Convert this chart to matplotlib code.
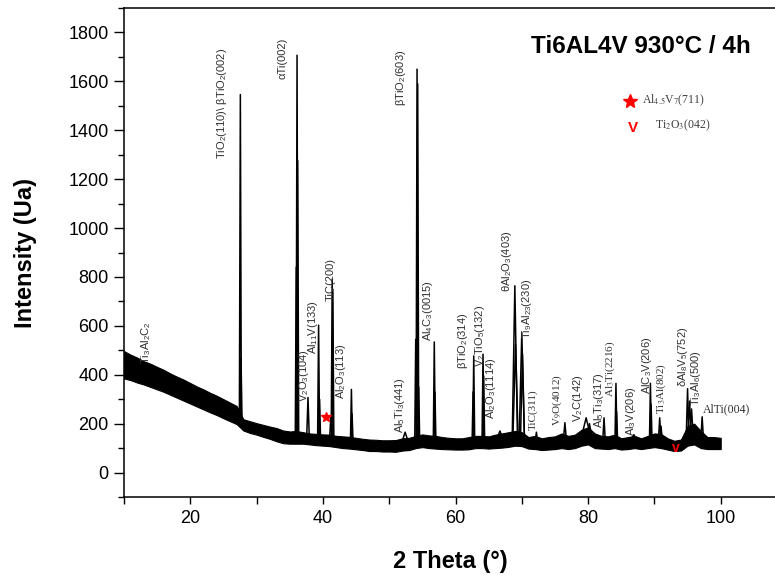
import matplotlib
matplotlib.use('Agg')
import matplotlib.pyplot as plt
from matplotlib.ticker import MultipleLocator
import numpy as np

plt.rcParams['font.family'] = 'Liberation Sans'
plt.rcParams['mathtext.fontset'] = 'custom'
plt.rcParams['mathtext.rm'] = 'Liberation Sans'
plt.rcParams['mathtext.it'] = 'Liberation Sans:italic'
plt.rcParams['mathtext.bf'] = 'Liberation Sans:bold'

# background band of the scan (lower / upper edge of the noise), 1 deg steps
bg_theta = np.arange(10, 101)
bg_lo = [385, 378, 368, 360, 350, 340, 330, 318, 306, 294,
         282, 270, 258, 246, 235, 222, 210, 198, 172, 162,
         155, 146, 138, 128, 120, 118, 118, 118, 115, 112,
         110, 108, 104, 100, 98, 95, 92, 88, 88, 86,
         86, 85, 90, 92, 100, 104, 100, 98, 96, 95,
         94, 94, 95, 100, 100, 98, 100, 102, 105, 110,
         108, 98, 96, 92, 94, 96, 100, 96, 100, 110,
         115, 100, 98, 96, 100, 94, 96, 100, 96, 100,
         104, 100, 94, 88, 90, 110, 115, 100, 96, 96, 96]
bg_hi = [497, 482, 470, 455, 445, 432, 420, 405, 392, 380,
         366, 352, 340, 326, 314, 300, 286, 272, 218, 210,
         202, 195, 188, 182, 172, 168, 170, 165, 160, 158,
         156, 155, 150, 148, 146, 142, 138, 135, 134, 132,
         132, 133, 140, 142, 150, 156, 152, 150, 145, 142,
         140, 140, 145, 150, 150, 148, 155, 160, 165, 170,
         165, 145, 150, 140, 145, 148, 160, 150, 155, 175,
         185, 160, 150, 148, 155, 140, 145, 150, 140, 150,
         160, 158, 140, 130, 135, 190, 200, 170, 145, 145, 142]

# diffraction peaks: position (2theta), apex, foot level, full width
peak_pos = [27.55, 27.65, 35.98, 36.10, 36.20, 37.75, 39.35, 39.50, 41.20, 41.40,
            41.50, 44.30, 44.40, 52.40, 54.00, 54.20, 54.30, 54.45, 56.80, 56.90,
            62.65, 62.75, 64.15, 64.25, 66.70, 68.95, 69.05, 70.00, 70.10, 72.20,
            76.50, 79.70, 80.20, 82.40, 84.20, 84.30, 86.90, 89.40, 89.50, 90.80,
            91.00, 95.00, 95.30, 95.60, 97.20]
peak_top = [1546, 470, 840, 1707, 1276, 307, 603, 300, 230, 791,
            750, 340, 240, 165, 545, 1650, 1590, 350, 534, 330,
            330, 477, 484, 395, 170, 764, 525, 573, 484, 165,
            204, 224, 200, 224, 365, 250, 155, 365, 280, 224,
            190, 343, 292, 260, 228]
peak_base = [215, 210, 143, 143, 143, 140, 135, 135, 132, 132,
             132, 122, 122, 115, 125, 125, 125, 125, 125, 125,
             120, 120, 125, 125, 128, 135, 135, 135, 135, 122,
             125, 135, 140, 125, 125, 125, 120, 125, 125, 130,
             130, 145, 150, 150, 135]
peak_fw = [0.3, 0.3, 0.3, 0.3, 0.3, 0.4, 0.3, 0.3, 0.4, 0.3,
           0.3, 0.3, 0.3, 1.2, 0.3, 0.3, 0.3, 0.3, 0.3, 0.3,
           0.3, 0.3, 0.3, 0.3, 1.2, 0.8, 0.8, 0.8, 0.6, 0.4,
           0.5, 1.6, 0.8, 0.4, 0.3, 0.3, 1.2, 0.3, 0.3, 0.4,
           0.4, 0.4, 0.5, 0.5, 0.4]

# phase assignments: text, 2theta, intensity at the foot of the text
phase_text = ["Ti$_3$Al$_2$C$_2$", "TiO$_2$(110)\\ βTiO$_2$(002)", "αTi(002)",
              "βTiO$_2$(603)", "V$_2$O$_3$(104)", "Al$_{11}$V(133)", "TiC(200)",
              "Al$_2$O$_3$(113)", "Al$_5$Ti$_3$(441)", "Al$_4$C$_3$(0015)",
              "βTiO$_2$(314)", "V$_2$TiO$_5$(132)", "Al$_2$O$_3$(1114)",
              "θAl$_2$O$_3$(403)", "Ti$_9$Al$_{23}$(230)", "TiC(311)",
              "V$_9$O(4012)", "V$_2$C(142)", "Al$_5$Ti$_3$(317)", "Al$_3$Ti(2216)",
              "Al$_3$V(206)", "AlC$_3$V(206)", "Ti$_3$Al(802)",
              "δAl$_8$V$_5$(752)", "Ti$_3$Al$_6$(500)"]
phase_x = [13.3, 24.8, 33.9, 51.8, 37.1, 38.5, 41.2, 42.75, 51.6, 55.9,
           61.2, 63.7, 65.4, 67.7, 70.8, 71.7, 75.3, 78.5, 81.6, 83.4,
           86.5, 88.9, 91.0, 94.3, 96.3]
phase_y = [445, 1282, 1611, 1500, 287, 484, 702, 299, 163, 538,
           422, 430, 217, 737, 545, 176, 192, 205, 184, 310,
           149, 320, 238, 348, 272]
serif_labels = {"TiC(311)", "V$_9$O(4012)", "Al$_3$Ti(2216)", "Ti$_3$Al(802)"}

fig = plt.figure(figsize=(7.75, 5.8), dpi=100)
ax = fig.add_axes([0.16, 0.1431, 0.8555, 0.8431])

ax.fill_between(bg_theta, bg_lo, bg_hi, color='black', lw=0.8)
for p, t, b, w in zip(peak_pos, peak_top, peak_base, peak_fw):
    ax.plot([p - w / 2, p, p + w / 2], [b, t, b], color='black', lw=1.1)

for txt, x, y in zip(phase_text, phase_x, phase_y):
    if txt in serif_labels:
        ax.text(x, y, txt, rotation=90, ha='center', va='bottom', fontsize=8,
                family='Liberation Serif', math_fontfamily='stix', color='#303030')
    else:
        ax.text(x, y, txt, rotation=90, ha='center', va='bottom', fontsize=8,
                color='#303030')
ax.text(97.3, 258, "AlTi(004)", ha='left', va='center', fontsize=8.5,
        family='Liberation Serif', color='#303030')

# markers for the minor phases
ax.plot(40.5, 226, marker='*', color='red', ms=7, ls='none')
ax.text(93.2, 101, "v", color='red', fontsize=10, fontweight='bold',
        ha='center', va='center')
ax.plot(86.3, 1521, marker='*', color='red', ms=10, ls='none')
ax.text(88.2, 1521, "Al$_{4.5}$V$_7$(711)", fontsize=8.5, va='center',
        family='Liberation Serif', math_fontfamily='stix', color='#404040')
ax.text(86.75, 1409, "V", color='red', fontsize=11, fontweight='bold',
        ha='center', va='center')
ax.text(90.1, 1420, "Ti$_2$O$_3$(042)", fontsize=8.5, va='center',
        family='Liberation Serif', math_fontfamily='stix', color='#404040')

ax.text(87.95, 1741, "Ti6AL4V 930°C / 4h", fontsize=17.5, fontweight='bold',
        ha='center', va='center')

ax.set_xlim(10, 110)
ax.set_ylim(-100, 1900)
ax.xaxis.set_major_locator(MultipleLocator(20))
ax.xaxis.set_minor_locator(MultipleLocator(10))
ax.yaxis.set_major_locator(MultipleLocator(200))
ax.yaxis.set_minor_locator(MultipleLocator(100))
ax.tick_params(which='major', direction='out', length=7, width=1, labelsize=13, pad=4)
ax.tick_params(which='minor', direction='out', length=4, width=1)
ax.tick_params(axis='x', which='both', length=5)
for s in ax.spines.values():
    s.set_linewidth(1.1)

ax.set_xlabel("2 Theta (°)", fontsize=17, fontweight='bold')
ax.set_ylabel("Intensity (Ua)", fontsize=17, fontweight='bold')
ax.xaxis.set_label_coords(0.492, -0.108)
ax.yaxis.set_label_coords(-0.131, 0.5)

fig.savefig('out.png', dpi=100)
